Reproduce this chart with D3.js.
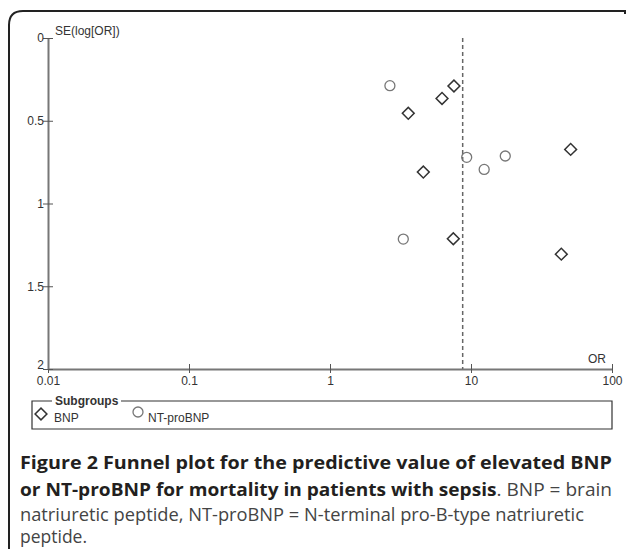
<!DOCTYPE html>
<html>
<head>
<meta charset="utf-8">
<script src="https://cdn.jsdelivr.net/npm/d3@7"></script>
<style>
  body { margin: 0; background: #fff; }
  svg { display: block; }
</style>
</head>
<body>
<div id="chart"></div>
<script>
// values
var bnpOR = [7.57, 6.23, 3.59, 50.9, 4.59, 7.49, 43.7];
var bnpSE = [0.29, 0.365, 0.455, 0.673, 0.81, 1.213, 1.306];
var ntOR = [2.66, 9.32, 12.4, 17.5, 3.31];
var ntSE = [0.288, 0.721, 0.794, 0.713, 1.215];
var pooledOR = 8.73;
var xTicks = [0.01, 0.1, 1, 10, 100];
var yTicks = [0, 0.5, 1, 1.5, 2];
var legendNames = ['BNP', 'NT-proBNP'];

var width = 627, height = 549;
var svg = d3.select('#chart').append('svg')
    .attr('width', width)
    .attr('height', height);

// frame with rounded top-left corner
svg.append('path')
    .attr('d', 'M9,549 V25 Q9,11 23,11 H625 V14')
    .attr('fill', 'none')
    .attr('stroke', '#222')
    .attr('stroke-width', 2);

var x = d3.scaleLog().domain([0.01, 100]).range([48, 612]);
var y = d3.scaleLinear().domain([0, 2]).range([38, 369]);

var plot = svg.append('g')
    .style('font-family', 'Liberation Sans, Arial, sans-serif')
    .style('font-size', '12px');

var xAxis = plot.append('g')
    .attr('transform', 'translate(0,' + y(2) + ')')
    .call(d3.axisBottom(x).tickValues(xTicks).tickFormat(d3.format('~g')).tickSizeOuter(0));
xAxis.select('.domain').attr('stroke', '#777').attr('stroke-width', 2);
xAxis.selectAll('.tick line').attr('y1', -5).attr('y2', 4).attr('stroke', '#555');
xAxis.selectAll('.tick text').attr('y', 7).attr('fill', '#333').style('font-size', '12px');

var yAxis = plot.append('g')
    .attr('transform', 'translate(' + x(0.01) + ',0)')
    .call(d3.axisLeft(y).tickValues(yTicks).tickFormat(d3.format('~g')).tickSizeOuter(0));
yAxis.select('.domain').attr('stroke', '#777').attr('stroke-width', 2);
yAxis.selectAll('.tick line').attr('x1', -5).attr('x2', 5).attr('stroke', '#555');
yAxis.selectAll('.tick text').attr('x', -4).attr('fill', '#333').style('font-size', '12px');
yAxis.selectAll('.tick').filter(function(d) { return d === 2; })
    .select('text').attr('dy', '-0.05em');

plot.append('text')
    .attr('x', x(0.01) + 7).attr('y', y(0) - 3)
    .attr('fill', '#333')
    .text('SE(log[OR])');
plot.append('text')
    .attr('x', x(100) - 6).attr('y', y(2) - 6)
    .attr('text-anchor', 'end')
    .attr('fill', '#333')
    .text('OR');

// pooled estimate
plot.append('line')
    .attr('x1', x(pooledOR)).attr('x2', x(pooledOR))
    .attr('y1', y(0)).attr('y2', y(2))
    .attr('stroke', '#666')
    .attr('stroke-width', 1.5)
    .attr('stroke-dasharray', '4,3');

var bnp = bnpOR.map(function(d, i) { return { or: d, se: bnpSE[i] }; });
var nt = ntOR.map(function(d, i) { return { or: d, se: ntSE[i] }; });

var diamond = d3.symbol().type(d3.symbolSquare).size(70);

plot.selectAll('.bnp').data(bnp)
  .enter().append('path')
    .attr('class', 'bnp')
    .attr('d', diamond)
    .attr('transform', function(d) {
        return 'translate(' + x(d.or) + ',' + y(d.se) + ') rotate(45)';
    })
    .attr('fill', 'none')
    .attr('stroke', '#333')
    .attr('stroke-width', 1.5);

plot.selectAll('.nt').data(nt)
  .enter().append('circle')
    .attr('class', 'nt')
    .attr('cx', function(d) { return x(d.or); })
    .attr('cy', function(d) { return y(d.se); })
    .attr('r', 5)
    .attr('fill', 'none')
    .attr('stroke', '#777')
    .attr('stroke-width', 1.3);

// legend
var lg = svg.append('g')
    .style('font-family', 'Liberation Sans, Arial, sans-serif')
    .style('font-size', '12px');
lg.append('path')
    .attr('d', 'M52,401 H32 V429 H612 V401 H121')
    .attr('fill', 'none')
    .attr('stroke', '#333')
    .attr('stroke-width', 1.2);
lg.append('text')
    .attr('x', 55).attr('y', 405)
    .attr('font-weight', 'bold')
    .attr('fill', '#333')
    .text('Subgroups');
lg.append('path')
    .attr('d', diamond)
    .attr('transform', 'translate(41,414) rotate(45)')
    .attr('fill', 'none')
    .attr('stroke', '#333')
    .attr('stroke-width', 1.5);
lg.append('text').attr('x', 54).attr('y', 422).attr('fill', '#333').text(legendNames[0]);
lg.append('circle')
    .attr('cx', 138).attr('cy', 412).attr('r', 5)
    .attr('fill', 'none').attr('stroke', '#777').attr('stroke-width', 1.3);
lg.append('text').attr('x', 148).attr('y', 422).attr('fill', '#333').text(legendNames[1]);

// caption
var cap = svg.append('g')
    .style('font-family', 'Open Sans, sans-serif')
    .style('font-size', '17.5px');
var l1 = cap.append('text').attr('x', 20).attr('y', 469)
    .attr('textLength', 592).attr('lengthAdjust', 'spacingAndGlyphs');
l1.append('tspan').attr('font-weight', 'bold').attr('fill', '#231f20')
    .text('Figure 2 Funnel plot for the predictive value of elevated BNP');
var l2 = cap.append('text').attr('x', 20).attr('y', 496)
    .attr('textLength', 592).attr('lengthAdjust', 'spacingAndGlyphs');
l2.append('tspan').attr('font-weight', 'bold').attr('fill', '#231f20')
    .text('or NT-proBNP for mortality in patients with sepsis');
l2.append('tspan').attr('fill', '#444').text('. BNP = brain');
cap.append('text').attr('x', 20).attr('y', 521)
    .attr('textLength', 564).attr('lengthAdjust', 'spacingAndGlyphs')
    .attr('fill', '#444')
    .text('natriuretic peptide, NT-proBNP = N-terminal pro-B-type natriuretic');
cap.append('text').attr('x', 20).attr('y', 543)
    .attr('fill', '#444')
    .text('peptide.');
</script>
</body>
</html>
